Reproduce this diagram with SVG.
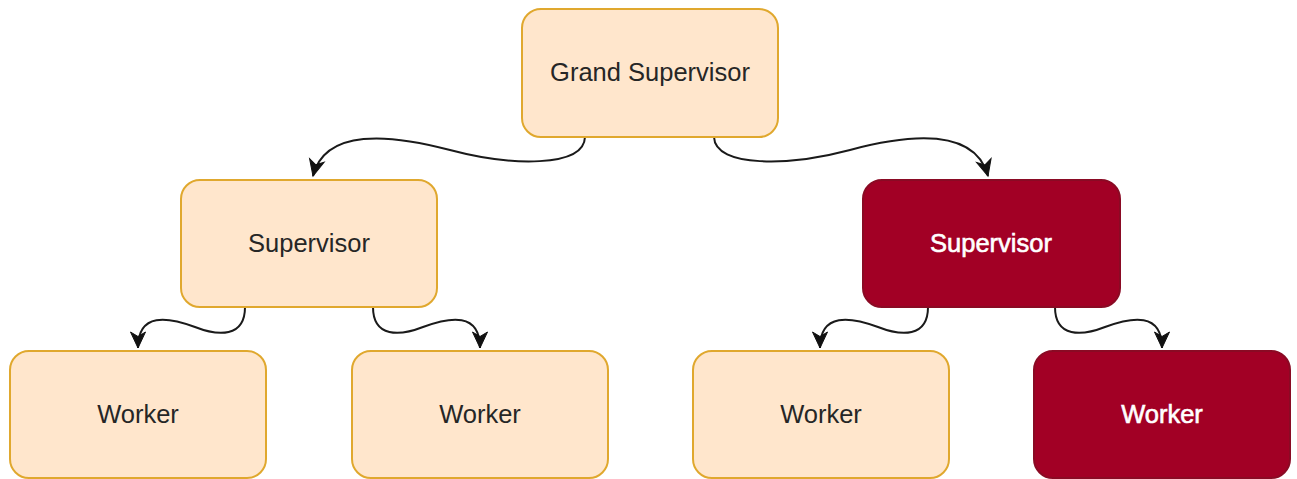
<svg xmlns="http://www.w3.org/2000/svg" width="1297" height="479" viewBox="0 0 1297 479">
  <style>
    .box { stroke-width: 2; }
    .light { fill: #ffe6cc; stroke: #e0a82e; }
    .dark { fill: #a20025; stroke: #8a0a24; }
    .label { font-family: "Liberation Sans", Arial, sans-serif; font-size: 25.5px; text-anchor: middle; }
    .label-dark { fill: #262626; }
    .label-light { fill: #ffffff; stroke: #ffffff; stroke-width: 0.6; }
    .edge { fill: none; stroke: #1a1a1a; stroke-width: 2; marker-end: url(#arrow); }
  </style>
  <defs>
    <marker id="arrow" markerUnits="userSpaceOnUse" markerWidth="22" markerHeight="22" viewBox="0 0 22 22" refX="18" refY="11" orient="auto">
      <path d="M2,3.5 L18,11 L2,18.5 L6.5,11 Z" fill="#111111" stroke="#111111" stroke-width="1"/>
    </marker>
  </defs>

  <g id="connectors">
    <path class="edge" d="M585,137 C584,168 510,166 450,150 C390,134 325,128 313,176"/>
    <path class="edge" d="M714,137 C715,168 790,166 850,150 C910,134 975,128 988,176"/>
    <path class="edge" d="M245,307 C245,338 218,336 195,327 C168,317 138,312 138,348"/>
    <path class="edge" d="M373,307 C373,338 400,336 423,327 C450,317 480,312 480,348"/>
    <path class="edge" d="M928,307 C928,338 901,336 878,327 C851,317 820,312 820,348"/>
    <path class="edge" d="M1055,307 C1055,338 1082,336 1105,327 C1132,317 1162,312 1162,348"/>
  </g>

  <g id="grand-supervisor">
    <rect class="box light" x="522" y="9" width="256" height="128" rx="19"/>
    <text class="label label-dark" x="650" y="81">Grand Supervisor</text>
  </g>
  <g id="supervisor-left">
    <rect class="box light" x="181" y="180" width="256" height="127" rx="19"/>
    <text class="label label-dark" x="309" y="252">Supervisor</text>
  </g>
  <g id="supervisor-right">
    <rect class="box dark" x="863" y="180" width="257" height="127" rx="19"/>
    <text class="label label-light" x="991" y="252">Supervisor</text>
  </g>
  <g id="worker-1">
    <rect class="box light" x="10" y="351" width="256" height="127" rx="19"/>
    <text class="label label-dark" x="138" y="423">Worker</text>
  </g>
  <g id="worker-2">
    <rect class="box light" x="352" y="351" width="256" height="127" rx="19"/>
    <text class="label label-dark" x="480" y="423">Worker</text>
  </g>
  <g id="worker-3">
    <rect class="box light" x="693" y="351" width="256" height="127" rx="19"/>
    <text class="label label-dark" x="821" y="423">Worker</text>
  </g>
  <g id="worker-4">
    <rect class="box dark" x="1034" y="351" width="256" height="127" rx="19"/>
    <text class="label label-light" x="1162" y="423">Worker</text>
  </g>
</svg>
